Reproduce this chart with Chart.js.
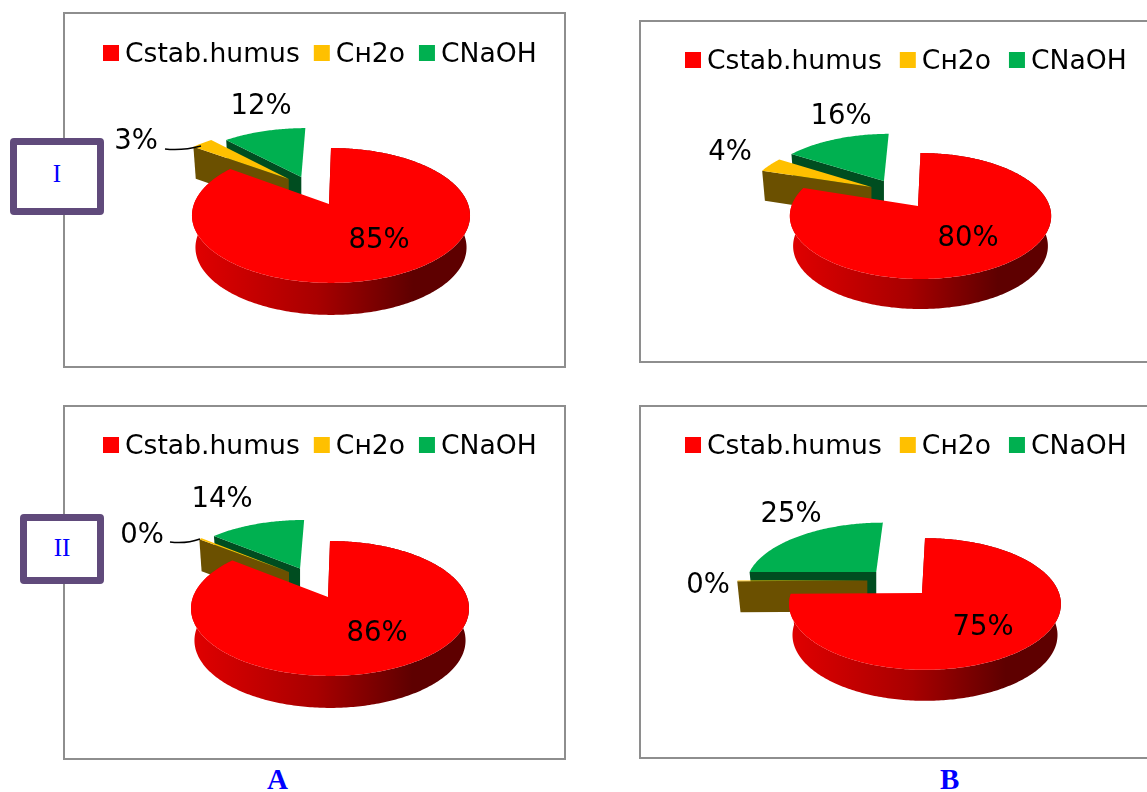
<!DOCTYPE html>
<html>
<head>
<meta charset="utf-8">
<script src="https://cdn.jsdelivr.net/npm/chart.js@4"></script>
<style>
  html, body { margin: 0; background: #fff; overflow: hidden; }
  body { width: 1147px; height: 792px; position: relative; }
  .panel { position: absolute; border: 2px solid #8e8e8e; background: #fff; box-sizing: border-box; }
  .panel canvas { position: absolute; left: 0; top: 0; }
  .tag { position: absolute; box-sizing: border-box; border: 7px solid #604a7b; border-radius: 4px; background: #fff;
         color: #0000ff; font: 25px "Liberation Serif", serif; text-align: center; }
  .col { position: absolute; color: #0000ff; font: bold 29px "Liberation Serif", serif; }
</style>
</head>
<body>
<div class="tag" style="left:10px;top:138px;width:94px;height:77px;line-height:57px">I</div>
<div class="tag" style="left:20px;top:514px;width:84px;height:70px;line-height:54px">II</div>
<div class="col" style="left:267px;top:763px">A</div>
<div class="col" style="left:940px;top:763px">B</div>
<script>
const seriesNames = ['Cstab.humus', 'Cн2o', 'CNaOH'];
const topColors = ['#ff0000', '#ffc000', '#00b050'];
const wallColors = ['#a00000', '#6b5000', '#004d20'];

// values; the "0%" wedges are thin but not empty
const valuesAI = [85, 3, 12];
const valuesAII = [85.6, 0.4, 14];
const valuesBI = [80, 4, 16];
const valuesBII = [74.8, 0.2, 25];

// Page position of each frame, the projected pie, and where its texts sit.
// explode holds [shift across, shift in depth, radius scale] for each slice.
const panels = [
  {
    id: 'AI', values: valuesAI, box: [63, 12, 503, 356],
    view: { cx: 331, cy: 204, rx: 137, ry: 65.5, p: 0.17, depth: 32, shrink: 0.975, apexDx: -2 },
    explode: [[0, 0, 1], [-0.33, -0.408, 1.05], [-0.233, -0.443, 1]],
    legend: { x: 103, y: 53, gap: 14 },
    labels: [[379, 239], [136, 140], [261, 105]],
    leader: [165, 149, 182, 151, 201, 146]
  },
  {
    id: 'BI', values: valuesBI, box: [639, 20, 540, 343],
    view: { cx: 920.5, cy: 206, rx: 129, ry: 61.4, p: 0.159, depth: 30, shrink: 0.975, apexDx: -2.5 },
    explode: [[0, 0, 1], [-0.4, -0.325, 1], [-0.303, -0.435, 1.01]],
    legend: { x: 685, y: 60, gap: 18 },
    labels: [[968, 237], [730, 151], [841, 115]]
  },
  {
    id: 'AII', values: valuesAII, box: [63, 405, 503, 355],
    view: { cx: 330, cy: 597, rx: 137, ry: 65.5, p: 0.17, depth: 32, shrink: 0.975, apexDx: -2 },
    explode: [[0, 0, 1], [-0.32, -0.408, 1.02], [-0.236, -0.47, 1]],
    legend: { x: 103, y: 445, gap: 14 },
    labels: [[377, 632], [142, 534], [222, 498]],
    leader: [170, 542, 186, 544, 200, 539]
  },
  {
    id: 'BII', values: valuesBII, box: [639, 405, 540, 354],
    view: { cx: 925, cy: 593, rx: 134, ry: 64, p: 0.167, depth: 31, shrink: 0.975, apexDx: -3 },
    explode: [[0, 0, 1], [-0.445, -0.2, 1], [-0.385, -0.347, 1]],
    legend: { x: 685, y: 445, gap: 18 },
    labels: [[983, 626], [708, 584], [791, 513]]
  }
];

const LEGEND_FONT = '26.6px "DejaVu Sans", sans-serif';
const LABEL_FONT = '27.5px "DejaVu Sans", sans-serif';
// middle-baseline text sits a little high against the reference
const TEXT_DROP = 2;

function project(view, u, v, low, pivot) {
  const w = 1 - view.p * v;
  let x = view.cx + view.rx * u / w;
  let y = view.cy + view.ry * v / w;
  if (low) {
    x = pivot + (x - pivot) * view.shrink;
    y += view.depth;
  }
  return [x, y];
}

function tracePath(ctx, points) {
  ctx.beginPath();
  points.forEach(([x, y], i) => (i ? ctx.lineTo(x, y) : ctx.moveTo(x, y)));
  ctx.closePath();
}

// Replaces the flat pie with a tilted, extruded one, keeping the angles the
// pie controller worked out for each arc.
const tiltedPie = {
  id: 'tiltedPie',
  beforeDatasetsDraw(chart, args, opts) {
    const { view, explode, box } = opts.panel;
    const ctx = chart.ctx;
    const arcs = chart.getDatasetMeta(0).data;
    ctx.save();
    ctx.translate(-box[0] - 2, -box[1] - 2);
    [2, 1, 0].forEach((i) => {
      const [eu, ev, scale] = explode[i];
      const start = arcs[i].startAngle + Math.PI / 2;
      const end = arcs[i].endAngle + Math.PI / 2;
      const steps = Math.max(2, Math.ceil((end - start) / 0.015));
      const apexTop = project(view, eu, ev, false, 0);
      // the red slice narrows towards the pie's axis, the loose ones towards their own point
      const pivot = i === 0 ? view.cx : apexTop[0];
      const apexLow = project(view, eu, ev, true, pivot);
      if (i === 0) apexTop[0] += view.apexDx;
      const rimTop = [];
      const rimLow = [];
      for (let s = 0; s <= steps; s++) {
        const a = start + (end - start) * s / steps;
        const u = eu + scale * Math.sin(a);
        const v = ev - scale * Math.cos(a);
        rimTop.push(project(view, u, v, false, pivot));
        rimLow.push(project(view, u, v, true, pivot));
      }
      ctx.fillStyle = wallColors[i];
      tracePath(ctx, [apexTop, rimTop[0], rimLow[0], apexLow]);
      ctx.fill();
      // only the big slice shows its curved outer wall
      if (i === 0) {
        const grad = ctx.createLinearGradient(view.cx - view.rx, 0, view.cx + view.rx, 0);
        grad.addColorStop(0, '#e00000');
        grad.addColorStop(0.45, '#a80000');
        grad.addColorStop(0.8, '#5e0000');
        grad.addColorStop(1, '#5e0000');
        ctx.fillStyle = grad;
        tracePath(ctx, rimTop.concat(rimLow.slice().reverse()));
        ctx.fill();
      }
      ctx.fillStyle = topColors[i];
      tracePath(ctx, [apexTop].concat(rimTop));
      ctx.fill();
    });
    ctx.restore();
    return false;
  },
  afterDraw(chart, args, opts) {
    const { values, labels, leader, legend, box } = opts.panel;
    const ctx = chart.ctx;
    const total = values.reduce((a, b) => a + b, 0);
    ctx.save();
    ctx.translate(-box[0] - 2, -box[1] - 2);
    ctx.font = LABEL_FONT;
    ctx.fillStyle = '#000';
    ctx.textAlign = 'center';
    ctx.textBaseline = 'middle';
    values.forEach((value, i) => {
      ctx.fillText(Math.round(value / total * 100) + '%', labels[i][0], labels[i][1] + TEXT_DROP);
    });
    if (leader) {
      ctx.strokeStyle = '#000';
      ctx.lineWidth = 1.5;
      ctx.beginPath();
      ctx.moveTo(leader[0], leader[1]);
      ctx.quadraticCurveTo(leader[2], leader[3], leader[4], leader[5]);
      ctx.stroke();
    }
    ctx.font = LEGEND_FONT;
    ctx.textAlign = 'left';
    let x = legend.x;
    chart.data.labels.forEach((name, i) => {
      ctx.fillStyle = topColors[i];
      ctx.fillRect(x, legend.y - 8, 16, 16);
      x += 22;
      ctx.fillStyle = '#000';
      ctx.fillText(name, x, legend.y + TEXT_DROP);
      x += ctx.measureText(name).width + legend.gap;
    });
    ctx.restore();
  }
};

panels.forEach((panel) => {
  const [left, top, width, height] = panel.box;
  const frame = document.createElement('div');
  frame.className = 'panel';
  frame.style.cssText = `left:${left}px;top:${top}px;width:${width}px;height:${height}px`;
  const canvas = document.createElement('canvas');
  canvas.id = panel.id;
  canvas.width = width - 4;
  canvas.height = height - 4;
  frame.append(canvas);
  document.body.insertBefore(frame, document.body.firstChild);

  new Chart(canvas.getContext('2d'), {
    type: 'pie',
    data: {
      labels: seriesNames,
      datasets: [{ data: panel.values, backgroundColor: topColors, borderWidth: 0 }]
    },
    options: {
      responsive: false,
      animation: false,
      events: [],
      plugins: {
        legend: { display: false },
        tooltip: { enabled: false },
        tiltedPie: { panel }
      }
    },
    plugins: [tiltedPie]
  });
});
</script>
</body>
</html>
